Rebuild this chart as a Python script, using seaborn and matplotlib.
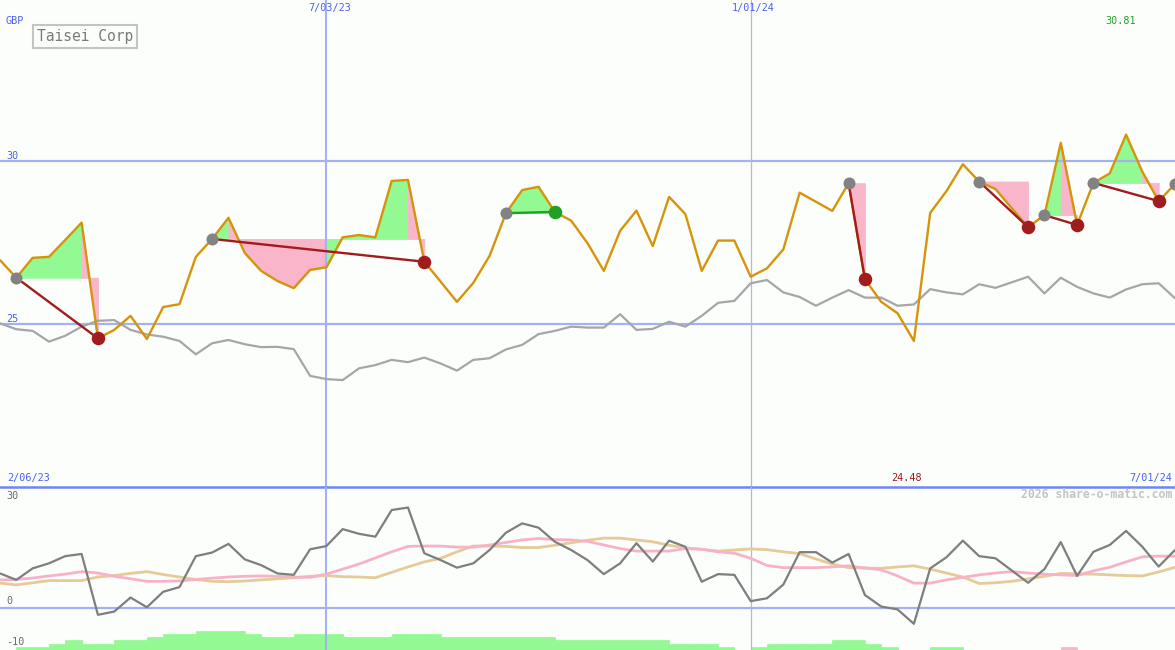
import matplotlib
matplotlib.use("Agg")
import matplotlib.pyplot as plt
import numpy as np
import pandas as pd
import seaborn as sns

# ---- data ----
weeks = pd.date_range("2023-02-13", periods=73, freq="7D")
period_start = "2/06/23"
period_end = "7/01/24"
month_marks = ["2023-07-03", "2024-01-01"]

price = [26.96, 26.42, 27.03, 27.06, 27.58, 28.11, 24.56, 24.82, 25.25, 24.54,
         25.52, 25.61, 27.06, 27.61, 28.26, 27.18, 26.63, 26.32, 26.10, 26.66,
         26.74, 27.66, 27.73, 27.66, 29.39, 29.42, 26.91, 26.30, 25.68, 26.26,
         27.09, 28.40, 29.11, 29.21, 28.44, 28.17, 27.48, 26.63, 27.86, 28.48,
         27.39, 28.90, 28.37, 26.63, 27.56, 27.56, 26.45, 26.71, 27.29, 29.03,
         28.75, 28.47, 29.32, 26.37, 25.68, 25.33, 24.48, 28.41, 29.08, 29.90,
         29.37, 29.14, 28.55, 27.97, 28.34, 30.56, 28.04, 29.33, 29.62, 30.81,
         29.67, 28.77, 29.29]

# relative comparison line (grey)
sector = [25.02, 24.84, 24.79, 24.46, 24.64, 24.92, 25.10, 25.12, 24.82, 24.68,
          24.61, 24.48, 24.07, 24.41, 24.51, 24.38, 24.29, 24.30, 24.23, 23.41,
          23.31, 23.28, 23.64, 23.74, 23.90, 23.83, 23.97, 23.79, 23.57, 23.90,
          23.95, 24.22, 24.36, 24.69, 24.79, 24.92, 24.89, 24.89, 25.30, 24.82,
          24.85, 25.07, 24.92, 25.25, 25.65, 25.71, 26.25, 26.35, 25.97, 25.83,
          25.56, 25.81, 26.04, 25.81, 25.81, 25.56, 25.60, 26.07, 25.97, 25.91,
          26.22, 26.11, 26.28, 26.45, 25.94, 26.42, 26.14, 25.94, 25.81, 26.06,
          26.22, 26.25, 25.79]

# lower panel oscillator and its two averages
osc = [9.6, 7.8, 11.0, 12.4, 14.4, 15.0, -1.9, -1.0, 2.9, 0.2,
       4.5, 5.8, 14.4, 15.4, 17.8, 13.5, 11.9, 9.6, 9.2, 16.3,
       17.2, 21.9, 20.6, 19.8, 27.2, 27.9, 15.2, 13.3, 11.2, 12.4,
       16.1, 20.9, 23.5, 22.3, 18.4, 16.1, 13.3, 9.4, 12.4, 18.0,
       12.9, 18.7, 17.0, 7.3, 9.4, 9.2, 1.9, 2.7, 6.5, 15.5,
       15.5, 12.6, 15.0, 3.6, 0.4, -0.4, -4.4, 11.0, 14.1, 18.7,
       14.4, 13.8, 10.4, 7.0, 10.8, 18.3, 8.9, 15.6, 17.5, 21.4,
       17.0, 11.5, 16.1]

osc_fast = [7.8, 7.9, 8.3, 8.9, 9.4, 10.1, 9.7, 8.8, 8.1, 7.4,
            7.4, 7.5, 7.9, 8.3, 8.6, 8.8, 8.9, 8.8, 8.6, 8.5,
            9.4, 10.8, 12.2, 13.9, 15.6, 17.1, 17.2, 17.2, 16.9, 16.9,
            17.5, 18.2, 18.9, 19.3, 19.0, 18.9, 18.5, 17.5, 16.5, 15.8,
            15.8, 15.8, 16.5, 16.3, 15.6, 15.2, 13.8, 11.8, 11.2, 11.2,
            11.2, 11.4, 11.7, 11.1, 10.6, 8.9, 6.9, 6.9, 7.8, 8.5,
            9.2, 9.7, 10.1, 9.7, 9.4, 9.2, 9.0, 10.3, 11.3, 12.8,
            14.2, 14.4, 14.4]

osc_slow = [6.9, 6.4, 7.0, 7.6, 7.6, 7.6, 8.6, 9.0, 9.6, 10.1,
            9.3, 8.6, 7.9, 7.4, 7.3, 7.5, 7.8, 8.1, 8.4, 8.8,
            9.0, 8.7, 8.6, 8.4, 9.9, 11.4, 12.8, 13.8, 15.6, 17.2,
            17.2, 17.1, 16.8, 16.8, 17.4, 18.1, 18.8, 19.4, 19.4, 18.9,
            18.4, 17.4, 16.7, 16.3, 15.8, 16.1, 16.4, 16.2, 15.6, 15.1,
            13.6, 12.2, 11.2, 11.1, 11.0, 11.4, 11.7, 10.8, 9.7, 8.6,
            6.8, 7.0, 7.4, 8.1, 8.8, 9.6, 9.5, 9.4, 9.2, 9.0,
            8.9, 10.0, 11.3]

# signed step levels of the little histogram at the bottom
flow = [0, 1, 1, 2, 3, 2, 2, 3, 3, 4,
        5, 5, 6, 6, 6, 5, 4, 4, 5, 5,
        5, 4, 4, 4, 5, 5, 5, 4, 4, 4,
        4, 4, 4, 4, 3, 3, 3, 3, 3, 3,
        3, 2, 2, 2, 1, 0, 1, 2, 2, 2,
        2, 3, 3, 2, 1, 0, 0, 1, 1, 0,
        0, 0, 0, 0, 0, -1, 0, 0, 0, 0,
        0, 0, 0]

# trades: week index of entry / exit (None = still open)
trade_open = [1, 13, 31, 52, 60, 64, 67, 72]
trade_close = [6, 26, 34, 53, 63, 66, 71, None]

# ---- style ----
W, H = 1175, 650
BG = "#fcfefc"
BLUE_TXT = "#4d5ff0"
GRID = "#a4b2f2"
GREEN_FILL = "#93f993"
PINK_FILL = "#f9b5ca"

sns.set_style("white")
plt.rcParams["font.family"] = ["DejaVu Sans Mono"]

fig = plt.figure(figsize=(W / 100, H / 100), dpi=100, facecolor=BG)
split = 487
ax = fig.add_axes([0, 1 - split / H, 1, split / H])
ax2 = fig.add_axes([0, 0, 1, 1 - split / H])
for a in (ax, ax2):
    a.set_axis_off()
    a.set_xlim(weeks[0], weeks[-1])
ax.set_ylim(20.0, 34.94)
ax2.set_ylim(-11.67, 33.6)


def fxy(px, py):
    return px / W, 1 - py / H


# ---- top panel ----
for lvl in (30, 25):
    ax.axhline(lvl, color=GRID, lw=1.6, zorder=1.5)
ax.axhline(20.0, color="#7086f0", lw=1.8, zorder=3, clip_on=False)

marks = [pd.Timestamp(d) for d in month_marks]
for a in (ax, ax2):
    a.axvline(marks[0], color=GRID, lw=1.5, zorder=1.5)
    a.axvline(marks[1], color="#b0b8e0", lw=0.9, zorder=1.5)

# shaded trade regions, one piece per week, coloured by where the week ends
for o, c in zip(trade_open, trade_close):
    if c is None:
        continue
    base = price[o]
    for k in range(o, c):
        col = GREEN_FILL if price[k + 1] >= base else PINK_FILL
        ax.fill_between(weeks[k:k + 2], price[k:k + 2], base, facecolor=col,
                        edgecolor=col, lw=0.6, zorder=1)

sns.lineplot(x=weeks, y=sector, ax=ax, color="#a6a6a6", lw=1.6, zorder=2)
sns.lineplot(x=weeks, y=price, ax=ax, color="#d6940a", lw=1.7, zorder=3)

for o, c in zip(trade_open, trade_close):
    if c is not None:
        win = price[c] >= price[o]
        lc = "#21a021" if win else "#a11c1c"
        ax.plot([weeks[o], weeks[c]], [price[o], price[c]], color=lc,
                lw=1.7, zorder=4, solid_capstyle="butt")
        ax.scatter(weeks[c], price[c], s=95, color=lc, zorder=6, lw=0)
    ax.scatter(weeks[o], price[o], s=75, color="#828282", zorder=5, lw=0)

# ---- bottom panel ----
ax2.axhline(0, color=GRID, lw=1.6, zorder=1.5)
lvl_h = 0.89
bottom = ax2.get_ylim()[0]
bar_cols = [GREEN_FILL if v >= 0 else PINK_FILL for v in flow]
ax2.bar(weeks, [abs(v) * lvl_h for v in flow], width=7, align="edge",
        bottom=bottom, color=bar_cols, edgecolor=bar_cols, lw=0.5, zorder=1)
sns.lineplot(x=weeks, y=osc_slow, ax=ax2, color="#e4cb98", lw=2.0, zorder=2)
sns.lineplot(x=weeks, y=osc_fast, ax=ax2, color="#f8b2c8", lw=2.0, zorder=2.5)
sns.lineplot(x=weeks, y=osc, ax=ax2, color="#7e7e7e", lw=1.6, zorder=3)

# ---- texts ----
fs = 7.3
fig.text(*fxy(5, 21), "GBP", color=BLUE_TXT, fontsize=fs, va="center")
fig.text(*fxy(85, 36.5), "Taisei Corp", color="#7a7a7a", fontsize=10.5,
         ha="center", va="center",
         bbox=dict(boxstyle="square,pad=0.28", fc="none", ec="#c4c4c4", lw=1.5))
fig.text(*fxy(6, 156), "30", color=BLUE_TXT, fontsize=fs, va="center")
fig.text(*fxy(6, 319), "25", color=BLUE_TXT, fontsize=fs, va="center")
for d in marks:
    frac = (d - weeks[0]) / (weeks[-1] - weeks[0])
    lab = f"{d.month}/{d.day:02d}/{d:%y}"
    fig.text(frac + 3 / W, 1 - 8 / H, lab, color=BLUE_TXT, fontsize=fs,
             ha="center", va="center")
fig.text(*fxy(1105, 21), f"{max(price):.2f}", color="#24a024", fontsize=fs,
         va="center")
fig.text(*fxy(7, 478), period_start, color=BLUE_TXT, fontsize=fs, va="center")
fig.text(*fxy(1172, 478), period_end, color=BLUE_TXT, fontsize=fs, va="center",
         ha="right")
fig.text(*fxy(907, 478), f"{min(price):.2f}", color="#a01818", fontsize=fs,
         va="center", ha="center")
fig.text(*fxy(1172, 495), "2026 share-o-matic.com", color="#c4c4c4",
         fontsize=8.3, fontweight="bold", va="center", ha="right")
fig.text(*fxy(6, 496), "30", color="#6a6a6a", fontsize=fs, va="center")
fig.text(*fxy(6, 601), "0", color="#6a6a6a", fontsize=fs, va="center")
fig.text(*fxy(6, 642), "-10", color="#6a6a6a", fontsize=fs, va="center")

fig.savefig("out.png", dpi=100, facecolor=BG)
